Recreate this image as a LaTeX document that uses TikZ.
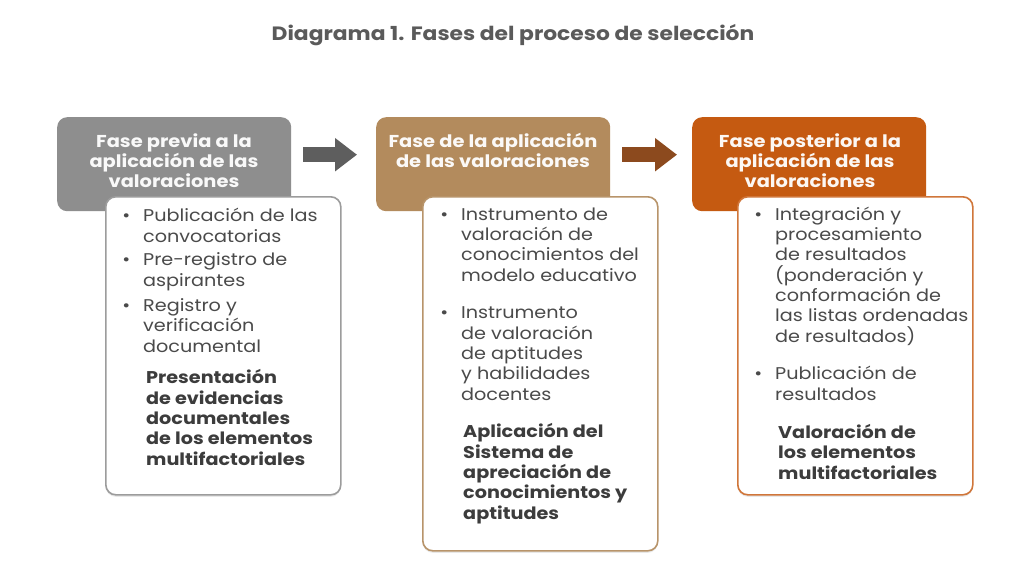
\documentclass[tikz,border=0pt]{standalone}
\usepackage{fontspec}
\setmainfont{Poppins}[FakeStretch=1.13]
\usetikzlibrary{arrows.meta,shadows}
\definecolor{titlec}{HTML}{5A5A5A}
\definecolor{txtc}{HTML}{4A4A4A}
\definecolor{boldc}{HTML}{3C3C3C}
\definecolor{hgray}{HTML}{8E8E8E}
\definecolor{hbrown}{HTML}{B38B5D}
\definecolor{horange}{HTML}{C55A11}
\definecolor{agray}{HTML}{5E5E5E}
\definecolor{abrown}{HTML}{8C4A1E}
\definecolor{bgray}{HTML}{9C9C9C}
\definecolor{bbrown}{HTML}{B8946A}
\definecolor{borange}{HTML}{D0763A}
\begin{document}
\begin{tikzpicture}[x=1pt,y=-1pt,
  hdr/.style={rounded corners=10pt, minimum width=234pt, minimum height=94pt, anchor=north west, inner sep=0pt},
  bodybox/.style={rounded corners=10pt, fill=white, line width=1.6pt, minimum width=235pt, anchor=north west, inner sep=0pt,
     drop shadow={opacity=0.18, shadow xshift=0pt, shadow yshift=-2pt}},
  htext/.style={anchor=base, align=center, font=\fontsize{17.2}{19.8}\selectfont\bfseries},
  itemtxt/.style={anchor=base west, align=left, inner sep=0pt, text=txtc, font=\fontsize{17}{20.3}\selectfont},
  boldtxt/.style={anchor=base west, align=left, inner sep=0pt, text=boldc, font=\fontsize{17}{20.3}\selectfont\bfseries},
  blockarrow/.style={line width=15pt, -{Triangle[length=22pt,width=32pt]}}
]
\useasboundingbox (0,0) rectangle (1024,575);
\fill[white] (0,0) rectangle (1024,575);

\node[anchor=base, text=titlec, font=\fontsize{19.3}{22}\selectfont\bfseries] (title) at (513,41) {Diagrama 1. Fases del proceso de selección};

% header boxes
\node[hdr, fill=hgray] (h1) at (57,117) {};
\node[hdr, fill=hbrown] (h2) at (376,117) {};
\node[hdr, fill=horange] (h3) at (692,117) {};

\node[htext, text=white!95!hgray] (t1) at (174,187) {Fase previa a la\\aplicación de las\\valoraciones};
\node[htext, text=white!95!hbrown] (t2) at (493,167) {Fase de la aplicación\\de las valoraciones};
\node[htext, text=white!95!horange] (t3) at (810,187) {Fase posterior a la\\aplicación de las\\valoraciones};

% arrows
\draw[blockarrow, agray] ([xshift=12pt,yshift=9.5pt]h1.east) -- ([xshift=-19pt,yshift=9.5pt]h2.west);
\draw[blockarrow, abrown] ([xshift=12pt,yshift=9.5pt]h2.east) -- ([xshift=-15pt,yshift=9.5pt]h3.west);

% body boxes
\node[bodybox, draw=bgray, minimum height=298pt] (b1) at (105,196) {};
\node[bodybox, draw=bbrown, minimum height=354pt] (b2) at (422,196) {};
\node[bodybox, draw=borange, minimum height=298pt] (b3) at (737,196) {};

% box 1 items (anchor = baseline of last line)
\node[itemtxt] (b1i1) at (143,242) {\llap{•\hspace{13pt}}Publicación de las\\convocatorias};
\node[itemtxt] (b1i2) at (143,286) {\llap{•\hspace{13pt}}Pre-registro de\\aspirantes};
\node[itemtxt] (b1i3) at (143,352) {\llap{•\hspace{13pt}}Registro y\\verificación\\documental};
\node[boldtxt] (b1b) at (146,465) {Presentación\\de evidencias\\documentales\\de los elementos\\multifactoriales};

% box 2 items
\node[itemtxt] (b2i1) at (461,281) {\llap{•\hspace{13pt}}Instrumento de\\valoración de\\conocimientos del\\modelo educativo};
\node[itemtxt] (b2i2) at (461,400) {\llap{•\hspace{13pt}}Instrumento\\de valoración\\de aptitudes\\y habilidades\\docentes};
\node[boldtxt] (b2b) at (463,519) {Aplicación del\\Sistema de\\apreciación de\\conocimientos y\\aptitudes};

% box 3 items
\node[itemtxt] (b3i1) at (775,342) {\llap{•\hspace{13pt}}Integración y\\procesamiento\\de resultados\\(ponderación y\\conformación de\\las listas ordenadas\\de resultados)};
\node[itemtxt] (b3i2) at (775,400) {\llap{•\hspace{13pt}}Publicación de\\resultados};
\node[boldtxt] (b3b) at (778,479) {Valoración de\\los elementos\\multifactoriales};
\end{tikzpicture}
\end{document}
